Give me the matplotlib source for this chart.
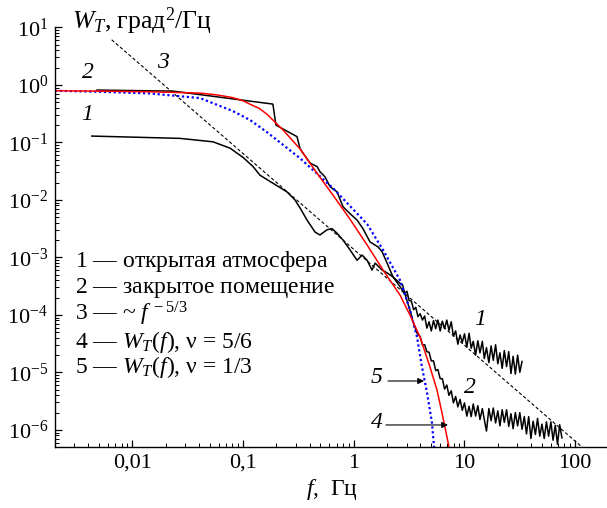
import numpy as np
import matplotlib
matplotlib.use("Agg")
import matplotlib.pyplot as plt
from matplotlib.ticker import LogLocator, FixedLocator, FixedFormatter, NullFormatter

plt.rcParams['font.family'] = ['Liberation Serif', 'DejaVu Serif']
plt.rcParams['mathtext.fontset'] = 'custom'
plt.rcParams['mathtext.rm'] = 'Liberation Serif'
plt.rcParams['mathtext.it'] = 'Liberation Serif:italic'
plt.rcParams['mathtext.bf'] = 'Liberation Serif:bold'

# --- curve 1: open atmosphere (f in Hz, log10 of W_T) ---
c1_head_f = [0.0043, 0.0269, 0.0535, 0.0762, 0.0998, 0.123, 0.142, 0.186, 0.249, 0.294,
             0.327, 0.378, 0.447, 0.495, 0.573, 0.636, 0.706, 0.80, 0.925, 1.07,
             1.19, 1.32, 1.46, 1.56, 1.80, 2.00, 2.26, 2.62]
c1_head_lgw = [-0.89, -0.93, -0.99, -1.10, -1.26, -1.42, -1.57, -1.71, -1.86, -2.00,
               -2.14, -2.35, -2.56, -2.61, -2.52, -2.50, -2.58, -2.70, -2.87, -3.05,
               -2.96, -3.05, -3.22, -3.10, -3.22, -3.27, -3.34, -3.45]
c1_tail_f = [2.75, 2.88, 3.02, 3.16, 3.31, 3.47, 3.63, 3.80, 3.98, 4.17,
             4.37, 4.57, 4.79, 5.01, 5.25, 5.50, 5.75, 6.03, 6.31, 6.61,
             6.92, 7.24, 7.59, 7.94, 8.32, 8.71, 9.12, 9.55, 10.0, 10.5,
             11.0, 11.5, 12.0, 12.6, 13.2, 13.8, 14.5, 15.1, 15.8, 16.6,
             17.4, 18.2, 19.1, 20.0, 20.9, 21.9, 22.9, 24.0, 25.1, 26.3,
             27.5, 28.8, 30.2, 31.6, 33.1]
c1_tail_lgw = [-3.47, -3.62, -3.59, -3.75, -3.76, -3.91, -3.87, -4.03, -3.98, -4.09,
               -4.02, -4.23, -4.12, -4.28, -4.10, -4.24, -4.09, -4.28, -4.11, -4.24,
               -4.09, -4.27, -4.12, -4.37, -4.28, -4.51, -4.35, -4.48, -4.33, -4.56,
               -4.32, -4.58, -4.46, -4.70, -4.45, -4.66, -4.46, -4.76, -4.57, -4.83,
               -4.54, -4.79, -4.52, -4.85, -4.66, -4.93, -4.62, -4.90, -4.64, -5.02,
               -4.72, -5.03, -4.70, -5.00, -4.81]

# --- curve 2: closed room ---
c2_head_f = [0.00479, 0.0233, 0.186, 0.198, 0.307, 0.327, 0.403, 0.466, 0.495, 0.550,
             0.610, 0.706, 0.80, 0.925, 1.07, 1.21, 1.40, 1.66, 1.80, 2.00,
             2.26, 2.62, 2.90, 3.22, 3.43, 3.73]
c2_head_lgw = [-0.09, -0.108, -0.334, -0.699, -0.90, -1.11, -1.36, -1.42, -1.51, -1.60,
               -1.77, -1.86, -2.12, -2.24, -2.35, -2.50, -2.73, -2.82, -2.90, -3.10,
               -3.34, -3.51, -3.64, -3.92, -4.12, -4.32]
c2_tail_f = [3.98, 4.17, 4.37, 4.57, 4.79, 5.01, 5.25, 5.50, 5.75, 6.03,
             6.31, 6.61, 6.92, 7.24, 7.59, 7.94, 8.32, 8.71, 9.12, 9.55,
             10.0, 10.5, 11.0, 11.5, 12.0, 12.6, 13.2, 13.8, 14.5, 15.1,
             15.8, 16.6, 17.4, 18.2, 19.1, 20.0, 20.9, 21.9, 22.9, 24.0,
             25.1, 26.3, 27.5, 28.8, 30.2, 31.6, 33.1, 34.7, 36.3, 38.0,
             39.8, 41.7, 43.7, 45.7, 47.9, 50.1, 52.5, 55.0, 57.5, 60.3,
             63.1, 66.1, 69.2, 72.4, 75.9]
c2_tail_lgw = [-4.38, -4.52, -4.52, -4.64, -4.65, -4.80, -4.80, -4.97, -4.95, -5.11,
               -5.11, -5.29, -5.22, -5.40, -5.32, -5.53, -5.42, -5.60, -5.47, -5.66,
               -5.53, -5.76, -5.59, -5.77, -5.55, -5.76, -5.58, -5.82, -5.63, -5.82,
               -6.02, -5.63, -5.84, -5.62, -5.88, -5.67, -5.93, -5.65, -5.87, -5.65,
               -5.94, -5.72, -5.98, -5.70, -5.93, -5.70, -5.99, -5.77, -6.07, -5.77,
               -6.15, -5.85, -6.08, -5.80, -6.11, -5.90, -6.15, -5.86, -6.11, -5.86,
               -6.18, -5.92, -6.25, -5.91, -6.14]

# --- curve 3: ~ f^-5/3 reference line (end points) ---
c3_f = [0.0065, 120.0]
c3_w = [6.1, 4.7e-7]

# --- curve 4: model, nu = 5/6 ---
c4_f = [0.002, 0.0051, 0.0144, 0.0408, 0.058, 0.081, 0.100, 0.116, 0.140, 0.164,
        0.23, 0.277, 0.327, 0.466, 0.649, 0.925, 1.32, 1.84, 2.62, 3.22,
        3.97, 4.88, 5.65, 6.27, 6.95, 7.25]
c4_w = [0.79, 0.78, 0.76, 0.72, 0.67, 0.60, 0.53, 0.46, 0.39, 0.31,
        0.164, 0.110, 0.077, 0.029, 0.0121, 0.0046, 0.00164, 6.0e-4, 2.2e-4, 9.9e-5,
        4.1e-5, 1.24e-5, 4.9e-6, 1.96e-6, 7.5e-7, 5.0e-7]

# --- curve 5: model, nu = 1/3 ---
c5_f = [0.002, 0.0051, 0.0144, 0.0408, 0.081, 0.116, 0.164, 0.327, 0.649, 1.32,
        1.84, 2.62, 3.22, 3.73, 4.13, 4.59, 5.09, 5.31]
c5_w = [0.79, 0.76, 0.71, 0.59, 0.35, 0.244, 0.151, 0.053, 0.016, 0.0038,
        0.00134, 4.0e-4, 1.21e-4, 4.1e-5, 1.24e-5, 4.4e-6, 1.31e-6, 5.0e-7]

x_ticks = [0.01, 0.1, 1, 10, 100]
x_tick_labels = ['0,01', '0,1', '1', '10', '100']
y_ticks = [1e-6, 1e-5, 1e-4, 1e-3, 1e-2, 1e-1, 1e0, 1e1]
y_tick_labels = [r'$10^{-6}$', r'$10^{-5}$', r'$10^{-4}$', r'$10^{-3}$',
                 r'$10^{-2}$', r'$10^{-1}$', r'$10^{0}$', r'$10^{1}$']

legend_lines = [
    r'$\mathit{1}$ — открытая атмосфера',
    r'$\mathit{2}$ — закрытое помещение',
    r'$\mathit{3}$ — ~ $f^{\,-5/3}$',
    r'$\mathit{4}$ — $W_T(f)$, ν = 5/6',
    r'$\mathit{5}$ — $W_T(f)$, ν = 1/3',
]

fig = plt.figure(figsize=(6.07, 5.08), dpi=100)
ax = fig.add_axes([0.0906, 0.1207, 0.9119, 0.8268])

f1 = np.array(c1_head_f + c1_tail_f)
w1 = 10 ** np.array(c1_head_lgw + c1_tail_lgw)
f2 = np.array(c2_head_f + c2_tail_f)
w2 = 10 ** np.array(c2_head_lgw + c2_tail_lgw)

ax.plot(c3_f, c3_w, color='black', lw=0.8, linestyle=(0, (3, 2)))
ax.plot(f1, w1, color='black', lw=1.1)
ax.plot(f2, w2, color='black', lw=1.1)
ax.plot(c5_f, c5_w, color='#0000ff', lw=1.6, linestyle=(0, (1, 1.2)))
ax.plot(c4_f, c4_w, color='#ff0000', lw=1.1)

ax.set_xscale('log')
ax.set_yscale('log')
ax.set_xlim(0.002, 200)
ax.set_ylim(5.1e-7, 10.3)

ax.spines['top'].set_visible(False)
ax.spines['right'].set_visible(False)
for s in ('left', 'bottom'):
    ax.spines[s].set_linewidth(1.0)

ax.xaxis.set_major_locator(FixedLocator(x_ticks))
ax.xaxis.set_major_formatter(FixedFormatter(x_tick_labels))
ax.xaxis.set_minor_locator(LogLocator(base=10, subs=np.arange(2, 10), numticks=100))
ax.xaxis.set_minor_formatter(NullFormatter())
ax.yaxis.set_major_locator(FixedLocator(y_ticks))
ax.yaxis.set_major_formatter(FixedFormatter(y_tick_labels))
ax.yaxis.set_minor_locator(LogLocator(base=10, subs=np.arange(2, 10), numticks=100))
ax.yaxis.set_minor_formatter(NullFormatter())
ax.tick_params(which='major', direction='in', length=5, width=0.9, labelsize=16, pad=5)
ax.tick_params(which='minor', direction='in', length=2.8, width=0.7)
for lbl in ax.get_xticklabels():
    lbl.set_x(lbl.get_position()[0])

# axis titles
ax.text(0.031, 0.9936, r'$W_T$, град$^2$/Гц', transform=ax.transAxes,
        fontsize=18.5, ha='left', va='baseline')
ax.set_xlabel(r'$f$,  Гц', fontsize=17, labelpad=3)

# legend block
legend_y = [0.4279, 0.3660, 0.2993, 0.2350, 0.1755]
for txt, yy in zip(legend_lines, legend_y):
    ax.text(0.036, yy, txt, transform=ax.transAxes, fontsize=17,
            ha='left', va='baseline')

# curve numbers
curve_labels = [('1', 0.0573, 0.7898), ('2', 0.0596, 0.8897), ('3', 0.195, 0.9136),
                ('1', 0.7678, 0.3017), ('2', 0.7498, 0.1421),
                ('5', 0.5817, 0.1636), ('4', 0.5817, 0.0564)]
for lab, xx, yy in curve_labels:
    ax.text(xx, yy, lab, transform=ax.transAxes, fontsize=17, style='italic',
            ha='center', va='center')

arrow_kw = dict(arrowstyle='-|>', color='black', lw=0.8, mutation_scale=9,
                shrinkA=0, shrinkB=0)
ax.annotate('', xy=(0.6667, 0.1564), xytext=(0.6016, 0.1564),
            xycoords='axes fraction', arrowprops=arrow_kw)
ax.annotate('', xy=(0.710, 0.0517), xytext=(0.598, 0.0517),
            xycoords='axes fraction', arrowprops=arrow_kw)

fig.savefig('out.png', dpi=100)
